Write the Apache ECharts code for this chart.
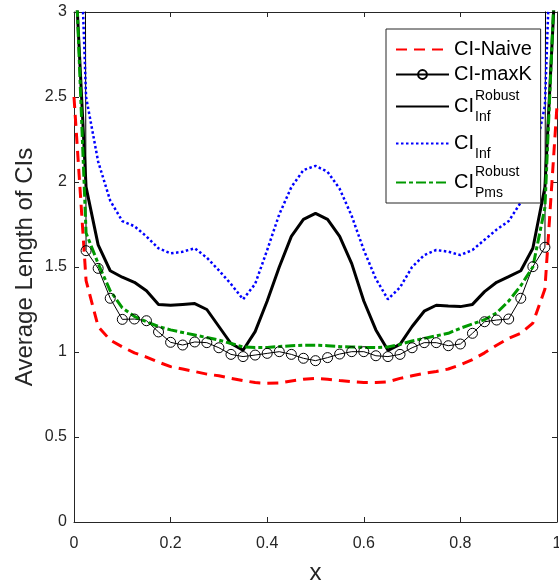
<!DOCTYPE html>
<html><head><meta charset="utf-8">
<script src="https://cdn.jsdelivr.net/npm/echarts@6/dist/echarts.min.js"></script>
<style>html,body{margin:0;padding:0;background:#fff}#c{width:559px;height:580px}</style>
</head><body><div id="c"></div>
<script>
const xs = [0,0.025,0.05,0.075,0.1,0.125,0.15,0.175,0.2,0.225,0.25,0.275,0.3,0.325,0.35,0.375,0.4,0.425,0.45,0.475,0.5,0.525,0.55,0.575,0.6,0.625,0.65,0.675,0.7,0.725,0.75,0.775,0.8,0.825,0.85,0.875,0.9,0.925,0.95,0.975,1];
const ciNaive = [2.5,1.42,1.15,1.07,1.03,0.995,0.97,0.94,0.914,0.90,0.885,0.87,0.86,0.845,0.832,0.82,0.816,0.818,0.83,0.84,0.845,0.84,0.832,0.825,0.82,0.82,0.825,0.845,0.86,0.875,0.885,0.90,0.925,0.955,0.995,1.04,1.08,1.11,1.17,1.37,2.45];
const ciMaxK = [30,1.596,1.492,1.316,1.192,1.194,1.184,1.118,1.057,1.041,1.059,1.055,1.025,0.986,0.973,0.982,0.992,1.002,0.986,0.963,0.949,0.967,0.988,1.002,1.002,0.978,0.973,0.986,1.025,1.055,1.055,1.037,1.047,1.11,1.178,1.188,1.194,1.316,1.502,1.616,30];
const ciRobustInf = [3.4,1.97,1.63,1.478,1.44,1.41,1.36,1.28,1.275,1.28,1.285,1.25,1.15,1.05,1.01,1.12,1.30,1.50,1.68,1.78,1.815,1.78,1.68,1.52,1.30,1.13,1.01,1.045,1.15,1.24,1.275,1.27,1.267,1.28,1.355,1.41,1.443,1.478,1.61,1.97,3.4];
const ciInf = [4.5,2.5,2.12,1.89,1.77,1.74,1.68,1.61,1.58,1.59,1.61,1.555,1.48,1.40,1.31,1.40,1.60,1.81,1.97,2.07,2.095,2.06,1.96,1.80,1.60,1.43,1.31,1.38,1.50,1.57,1.60,1.59,1.57,1.60,1.66,1.72,1.77,1.88,2.10,2.45,4.5];
const ciRobustPms = [3.5,1.70,1.52,1.36,1.26,1.21,1.178,1.15,1.13,1.115,1.10,1.085,1.07,1.05,1.03,1.027,1.027,1.032,1.037,1.04,1.04,1.037,1.032,1.03,1.027,1.026,1.03,1.045,1.065,1.08,1.095,1.11,1.14,1.165,1.19,1.23,1.30,1.39,1.50,1.85,3.5];
const xTicks = [0,0.2,0.4,0.6,0.8,1];
const yTicks = [0,0.5,1,1.5,2,2.5,3];

const FONT = "'Liberation Sans', Arial, Helvetica, sans-serif";
const AX = '#262626';
function pairs(v){ return xs.map((x,i)=>[x,v[i]]); }

const legendText = {
  'CI-Naive': '{t|CI-Naive}{h| }',
  'CI-maxK': '{t|CI-maxK}{h| }',
  'CIRobustInf': '{gap| }{sup|Robust}\n{ci|CI}\n{gap| }{sub|Inf}',
  'CIInf': '{g2| }\n{ci|CI}\n{gap| }{sub|Inf}',
  'CIRobustPms': '{gap| }{sup|Robust}\n{ci|CI}\n{gap| }{sub|Pms}'
};

const chart = echarts.init(document.getElementById('c'), null, {renderer:'canvas'});
const axisCommon = {
  type:'value', splitLine:{show:false},
  axisLine:{show:true, onZero:false, lineStyle:{color:AX, width:1}},
  axisTick:{show:true, inside:true, length:5, lineStyle:{color:AX}},
};
const hide = {opacity:0};
chart.setOption({
  animation:false,
  backgroundColor:'#fff',
  grid:{left:74, right:2, top:12, bottom:58, containLabel:false, outerBoundsMode:'none'},
  xAxis:[
    Object.assign({}, axisCommon, {min:0, max:1, interval:0.2, position:'bottom',
      name:'x', nameLocation:'middle', nameGap:39,
      nameTextStyle:{fontFamily:FONT, fontSize:24, color:AX},
      axisLabel:{fontFamily:FONT, fontSize:16, color:AX, margin:14}}),
    Object.assign({}, axisCommon, {min:0, max:1, interval:0.2, position:'top', axisLabel:{show:false}})
  ],
  yAxis:[
    Object.assign({}, axisCommon, {min:0, max:3, interval:0.5, position:'left',
      name:'Average Length of CIs', nameLocation:'middle', nameGap:37, nameMoveOverlap:false,
      nameTextStyle:{fontFamily:FONT, fontSize:24, color:AX},
      axisLabel:{fontFamily:FONT, fontSize:16, color:AX, margin:7}}),
    Object.assign({}, axisCommon, {min:0, max:3, interval:0.5, position:'right', axisLabel:{show:false}})
  ],
  legend:{
    orient:'vertical', left:386, top:29,
    backgroundColor:'#fff', borderColor:AX, borderWidth:1,
    padding:[10,3,3,9], itemGap:4, itemWidth:53, itemHeight:11,
    data:[{name:'CI-Naive', itemStyle:hide}, 'CI-maxK', {name:'CIRobustInf', itemStyle:hide},
          {name:'CIInf', itemStyle:hide}, {name:'CIRobustPms', itemStyle:hide}],
    formatter:function(n){ return legendText[n]; },
    textStyle:{fontFamily:FONT, fontSize:20, color:'#000',
      rich:{
        t:{fontFamily:FONT, fontSize:20, lineHeight:20, color:'#000'},
        h:{fontFamily:FONT, fontSize:21, width:1, color:'#000'},
        ci:{fontFamily:FONT, fontSize:20, lineHeight:20, color:'#000'},
        gap:{fontFamily:FONT, fontSize:14, width:21, lineHeight:1},
        g2:{fontFamily:FONT, fontSize:10, width:21, lineHeight:1},
        sup:{fontFamily:FONT, fontSize:14, lineHeight:1, color:'#000'},
        sub:{fontFamily:FONT, fontSize:14, lineHeight:1, color:'#000'}
      }}
  },
  series:[
    {name:'CI-Naive', type:'line', data:pairs(ciNaive), symbol:'none', clip:true,
     lineStyle:{color:'#ff0000', width:3, type:[11,7]}, itemStyle:{color:'#ff0000'}},
    {name:'CI-maxK', type:'line', clip:true,
     data:xs.map((x,i)=>({value:[x,ciMaxK[i]], symbol:(i===0||i===xs.length-1)?'none':'circle'})),
     symbol:'circle', symbolSize:10, showAllSymbol:true,
     lineStyle:{color:'#000', width:1},
     itemStyle:{color:'rgba(0,0,0,0)', borderColor:'#000', borderWidth:1}},
    {name:'CIRobustInf', type:'line', data:pairs(ciRobustInf), symbol:'none', clip:true,
     lineStyle:{color:'#000', width:3}, itemStyle:{color:'#000'}},
    {name:'CIInf', type:'line', data:pairs(ciInf), symbol:'none', clip:true,
     lineStyle:{color:'#0000ff', width:2.5, type:[2.5,2.5]}, itemStyle:{color:'#0000ff'}},
    {name:'CIRobustPms', type:'line', data:pairs(ciRobustPms), symbol:'none', clip:true,
     lineStyle:{color:'#009900', width:3, type:[10,3,4,3]}, itemStyle:{color:'#009900'}}
  ]
});
</script></body></html>
